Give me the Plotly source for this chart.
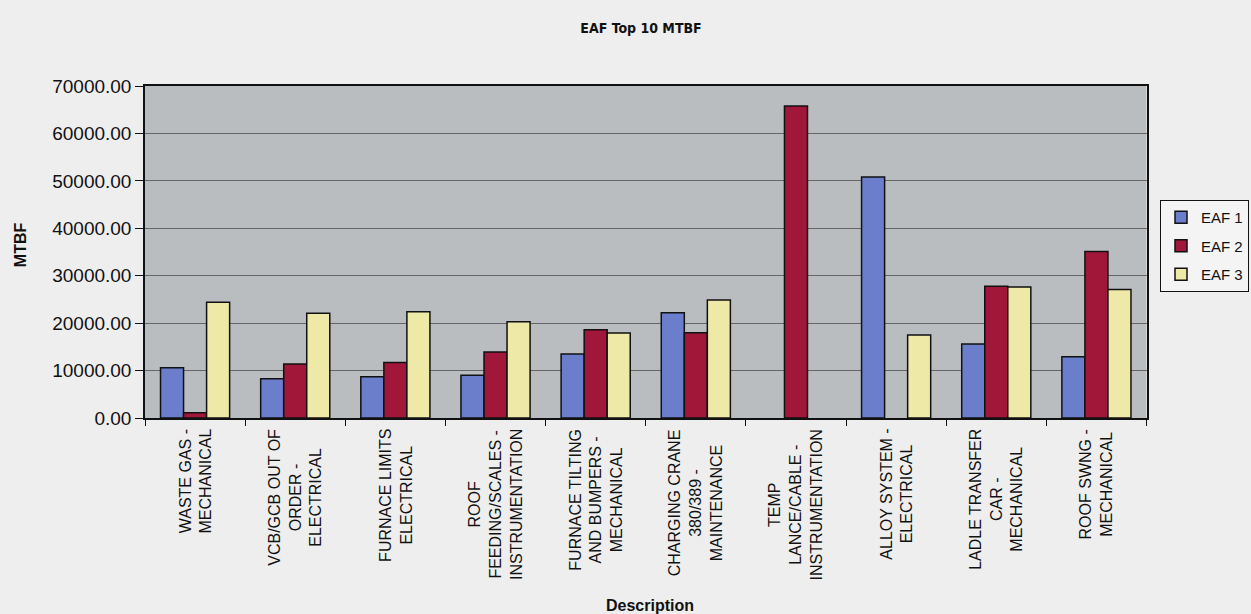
import plotly.graph_objects as go

categories = [
    "WASTE GAS -<br>MECHANICAL",
    "VCB/GCB OUT OF<br>ORDER -<br>ELECTRICAL",
    "FURNACE LIMITS<br>ELECTRICAL",
    "ROOF<br>FEEDING/SCALES -<br>INSTRUMENTATION",
    "FURNACE TILTING<br>AND BUMPERS -<br>MECHANICAL",
    "CHARGING CRANE<br>380/389 -<br>MAINTENANCE",
    "TEMP<br>LANCE/CABLE -<br>INSTRUMENTATION",
    "ALLOY SYSTEM -<br>ELECTRICAL",
    "LADLE TRANSFER<br>CAR -<br>MECHANICAL",
    "ROOF SWNG -<br>MECHANICAL",
]

# None = no bar drawn for that furnace
eaf1 = [10600, 8300, 8700, 9000, 13500, 22200, None, 50800, 15600, 12900]
eaf2 = [1100, 11400, 11700, 13900, 18600, 18000, 65800, None, 27800, 35100]
eaf3 = [24400, 22100, 22400, 20300, 17900, 24900, None, 17500, 27600, 27100]

series_names = ["EAF 1", "EAF 2", "EAF 3"]
series_colors = ["#6b7ecb", "#a1173a", "#efe9a8"]

y_ticks = [0, 10000, 20000, 30000, 40000, 50000, 60000, 70000]

fig = go.Figure()
for name, vals, col in zip(series_names, [eaf1, eaf2, eaf3], series_colors):
    fig.add_trace(go.Bar(
        x=categories, y=vals, name=name, legendgroup=name,
        marker=dict(color=col, line=dict(color="#111111", width=1.5)),
    ))

font_main = "Liberation Sans, Arial, sans-serif"

annotations = []
for cat in categories:
    annotations.append(dict(
        x=cat, xref="x", y=0, yref="paper", yshift=-9,
        text=cat, textangle=-90, showarrow=False,
        xanchor="center", yanchor="top", align="center",
        font=dict(family=font_main, size=16, color="#111111"),
    ))
annotations.append(dict(
    x=(20 - 145) / 1003, xref="paper", y=(418 - 245) / 332, yref="paper",
    text="<b>MTBF</b>", textangle=-90, showarrow=False,
    xanchor="center", yanchor="middle",
    font=dict(family=font_main, size=16, color="#111111"),
))
annotations.append(dict(
    x=(651 - 145) / 1003, xref="paper", y=(418 - 605) / 332, yref="paper",
    text="<b>Description</b>", showarrow=False,
    xanchor="center", yanchor="middle",
    font=dict(family=font_main, size=16, color="#111111"),
))

fig.update_layout(
    width=1251, height=614,
    margin=dict(l=145, r=103, t=86, b=196),
    paper_bgcolor="#eeeeee",
    plot_bgcolor="#babdc0",
    barmode="group", bargap=0.31, bargroupgap=0,
    title=dict(
        text="<b>EAF Top 10 MTBF</b>",
        x=641 / 1251, xanchor="center", y=1 - 28 / 614, yanchor="middle",
        font=dict(family="Liberation Sans Narrow, DejaVu Sans Condensed, Arial Narrow, sans-serif",
                  size=14, color="#111111"),
    ),
    xaxis=dict(
        type="category", showticklabels=False,
        ticks="outside", tickson="boundaries", ticklen=6, tickcolor="#111111",
        showline=True, linecolor="#111111", linewidth=1.5, mirror=True,
        showgrid=False,
    ),
    yaxis=dict(
        range=[0, 70000], tickvals=y_ticks,
        ticktext=[f"{v:.2f}" for v in y_ticks],
        ticks="outside", ticklen=8, tickcolor="#111111",
        tickfont=dict(family=font_main, size=19, color="#111111"),
        showline=True, linecolor="#111111", linewidth=1.5, mirror=True,
        showgrid=True, gridcolor="#666666", gridwidth=1,
        zeroline=False,
    ),
    legend=dict(
        xref="container", yref="container",
        x=1160 / 1251, xanchor="left",
        y=1 - 200 / 614, yanchor="top",
        bgcolor="#f4f4f4", bordercolor="#111111", borderwidth=1,
        font=dict(family=font_main, size=15, color="#111111"),
        itemwidth=30, traceorder="grouped", tracegroupgap=6,
    ),
    showlegend=True,
    annotations=annotations,
)

fig.write_html("out.html")
